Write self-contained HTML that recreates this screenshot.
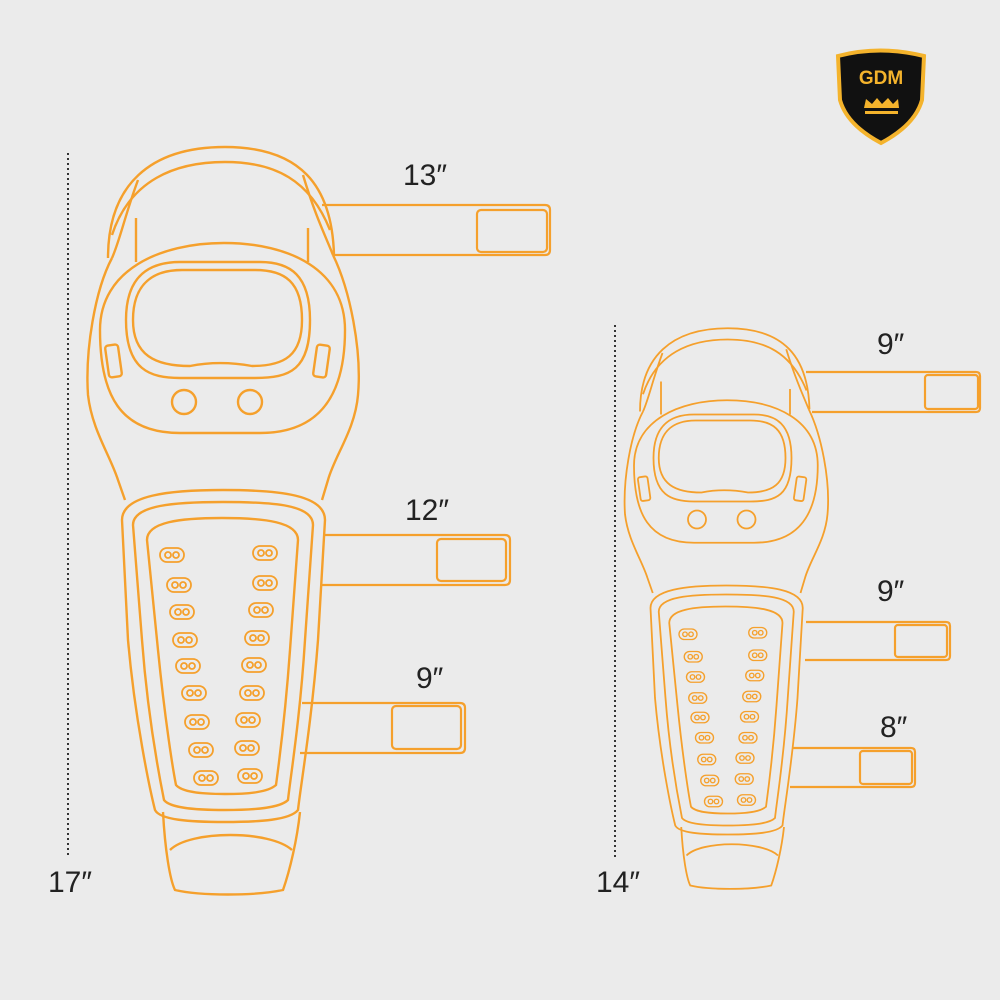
<!DOCTYPE html>
<html><head><style>
body{margin:0;background:#ebebeb;}
svg{display:block}
text{font-family:"Liberation Sans",sans-serif;fill:#222;}
</style></head><body>
<svg width="1000" height="1000" viewBox="0 0 1000 1000">
<rect width="1000" height="1000" fill="#ebebeb"/>
<defs>
<g id="hole"><rect x="-12" y="-7" width="24" height="14" rx="7" fill="none"/><circle cx="-4" cy="0" r="3" fill="none"/><circle cx="4" cy="0" r="3" fill="none"/></g>
<g id="pad" fill="none" stroke="#f5a02c" stroke-width="2.4">
 <path d="M108,258 C108,185 150,147 225,147 C300,147 332,185 334,255"/>
 <path d="M112,235 C130,180 175,162 225,162 C275,162 310,180 330,230"/>
 <path d="M138,180 C125,215 120,240 112,258"/><path d="M303,175 C315,215 325,235 333,255"/>
 <path d="M136,262 L136,218"/><path d="M308,262 L308,228"/>
 <path d="M112,258 C95,290 85,350 88,395 C92,430 110,455 118,480 L125,500"/>
 <path d="M333,255 C350,290 362,350 358,395 C355,430 335,455 328,480 L322,500"/>
 <path d="M100,330 C100,270 160,243 224,243 C290,243 345,270 345,330 C345,395 320,433 260,433 L180,433 C120,433 100,395 100,330Z"/>
 <path d="M126,320 C126,275 150,262 180,262 L260,262 C290,262 310,275 310,320 C310,370 290,378 255,378 L180,378 C150,378 126,370 126,320Z"/>
 <path d="M133,320 C133,282 155,270 182,270 L255,270 C285,270 302,282 302,320 C302,355 285,366 252,366 C230,362 210,362 190,366 C155,366 133,355 133,320Z"/>
 <rect x="107" y="345" width="13" height="32" rx="3" transform="rotate(-8 113 361)"/>
 <rect x="315" y="345" width="13" height="32" rx="3" transform="rotate(8 321 361)"/>
 <circle cx="184" cy="402" r="12"/><circle cx="250" cy="402" r="12"/>
 <path d="M122,520 C122,495 170,490 223,490 C280,490 325,495 325,520 L318,640 C312,720 300,790 298,810 C290,820 260,822 225,822 C190,822 160,820 155,810 C150,790 135,720 128,640Z"/>
 <path d="M133,525 C133,505 175,502 223,502 C275,502 313,505 313,525 L305,640 C300,720 290,780 288,800 C280,808 255,810 225,810 C195,810 170,808 164,800 C160,780 148,720 142,640Z"/>
 <path d="M147,540 C147,522 180,518 222,518 C265,518 298,522 298,540 L290,650 C285,720 278,770 276,785 C268,792 250,794 225,794 C200,794 182,792 176,785 C173,770 165,720 158,650Z"/>
 <path d="M163,812 C165,850 170,880 175,890 C200,896 255,896 283,890 C290,870 297,840 300,812"/>
 <path d="M170,850 C190,830 270,830 292,850"/>
 <g stroke-width="1.8">
 <use href="#hole" x="172" y="555"/><use href="#hole" x="179" y="585"/><use href="#hole" x="182" y="612"/><use href="#hole" x="185" y="640"/><use href="#hole" x="188" y="666"/><use href="#hole" x="194" y="693"/><use href="#hole" x="197" y="722"/><use href="#hole" x="201" y="750"/><use href="#hole" x="206" y="778"/>
 <use href="#hole" x="265" y="553"/><use href="#hole" x="265" y="583"/><use href="#hole" x="261" y="610"/><use href="#hole" x="257" y="638"/><use href="#hole" x="254" y="665"/><use href="#hole" x="252" y="693"/><use href="#hole" x="248" y="720"/><use href="#hole" x="247" y="748"/><use href="#hole" x="250" y="776"/>
 </g>
</g>
</defs>
<use href="#pad"/>
<use href="#pad" transform="translate(559,218) scale(0.75)"/>
<g fill="none" stroke="#f5a02c" stroke-width="2.2">
 <path d="M322,205 L545,205 Q550,205 550,210 L550,250 Q550,255 545,255 L333,255"/><rect x="477" y="210" width="70" height="42" rx="4"/>
 <path d="M325,535 L505,535 Q510,535 510,540 L510,580 Q510,585 505,585 L322,585"/><rect x="437" y="539" width="69" height="42" rx="4"/>
 <path d="M302,703 L460,703 Q465,703 465,708 L465,748 Q465,753 460,753 L300,753"/><rect x="392" y="706" width="69" height="43" rx="4"/>
 <path d="M806,372 L976,372 Q980,372 980,376 L980,408 Q980,412 976,412 L812,412"/><rect x="925" y="375" width="53" height="34" rx="3"/>
 <path d="M806,622 L946,622 Q950,622 950,626 L950,656 Q950,660 946,660 L805,660"/><rect x="895" y="625" width="52" height="32" rx="3"/>
 <path d="M792,748 L911,748 Q915,748 915,752 L915,783 Q915,787 911,787 L790,787"/><rect x="860" y="751" width="52" height="33" rx="3"/>
</g>
<line x1="68" y1="153" x2="68" y2="855" stroke="#333" stroke-width="2" stroke-dasharray="2,3"/>
<line x1="615" y1="325" x2="615" y2="858" stroke="#333" stroke-width="2" stroke-dasharray="2,3"/>
<g font-size="30">
<text x="403" y="185">13″</text><text x="405" y="520">12″</text><text x="416" y="688">9″</text>
<text x="877" y="354">9″</text><text x="877" y="601">9″</text><text x="880" y="737">8″</text>
<text x="48" y="892">17″</text><text x="596" y="892">14″</text>
</g>
<path d="M838,56 Q880,45 924,56 L922,100 Q915,125 881,143 Q847,125 840,100Z" fill="#111" stroke="#f4b32c" stroke-width="4"/>
<text x="881" y="84" font-size="19" font-weight="bold" text-anchor="middle" style="fill:#f4b32c">GDM</text>
<path d="M864,108 L866,99 L872,104 L877,98 L882,104 L888,98 L893,104 L898,99 L899,108Z M865,111 L898,111 L898,114 L865,114Z" fill="#f4b32c"/>
</svg>
</body></html>
